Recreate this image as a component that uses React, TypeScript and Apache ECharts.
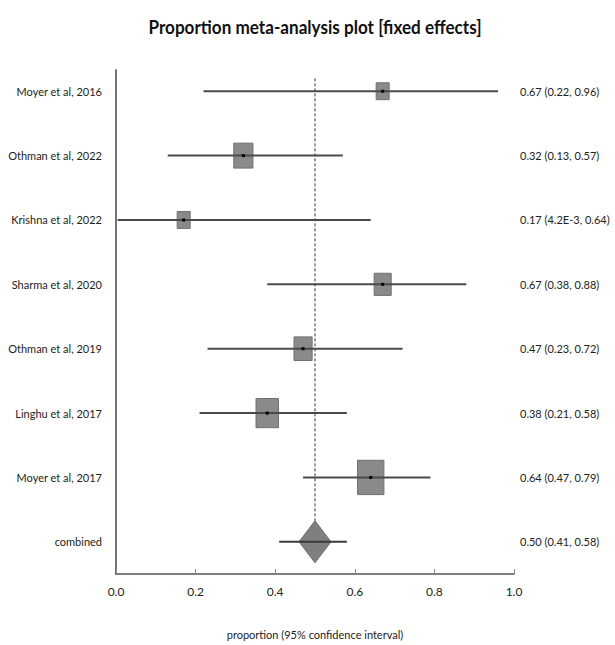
import React, { useEffect, useRef } from "react";
import * as echarts from "echarts";

const studies = [
  "Moyer et al, 2016",
  "Othman et al, 2022",
  "Krishna et al, 2022",
  "Sharma et al, 2020",
  "Othman et al, 2019",
  "Linghu et al, 2017",
  "Moyer et al, 2017",
];
const proportions = [0.67, 0.32, 0.17, 0.67, 0.47, 0.38, 0.64];
const lowerCI = [0.22, 0.13, 0.0042, 0.38, 0.23, 0.21, 0.47];
const upperCI = [0.96, 0.57, 0.64, 0.88, 0.72, 0.58, 0.79];
const sampleSizes = [6, 19, 6, 15, 17, 26, 36];
const ciLabels = [
  "0.67 (0.22, 0.96)",
  "0.32 (0.13, 0.57)",
  "0.17 (4.2E-3, 0.64)",
  "0.67 (0.38, 0.88)",
  "0.47 (0.23, 0.72)",
  "0.38 (0.21, 0.58)",
  "0.64 (0.47, 0.79)",
];
const combinedLabel = "combined";
const combinedEstimate = 0.5;
const combinedLower = 0.41;
const combinedUpper = 0.58;
const combinedCILabel = "0.50 (0.41, 0.58)";

const rowLabels = [...studies, combinedLabel];
const rightLabels = [...ciLabels, combinedCILabel];
const rowIdx = rowLabels.map((_, i) => i);

const TITLE = "Proportion meta-analysis plot [fixed effects]";
const FONT = "Lato, 'Noto Sans', sans-serif";
const TEXT = "#222";

function measure(text: string, font: string): number {
  const c = document.createElement("canvas").getContext("2d");
  if (!c) return 0;
  c.font = font;
  return c.measureText(text).width;
}

export default function App() {
  const ref = useRef<HTMLDivElement>(null);
  useEffect(() => {
    if (!ref.current) return;
    const chart = echarts.init(ref.current, null, { renderer: "svg" });

    const titleFont = `bold 19px ${FONT}`;
    const tw = measure(TITLE, titleFont);
    const titleScale = tw > 0 ? 333 / tw : 1;

    const studyData = studies.map((_, i) => [
      proportions[i],
      i,
      lowerCI[i],
      upperCI[i],
      sampleSizes[i],
    ]);
    const combinedIndex = studies.length;

    const renderStudy = (_params: any, api: any) => {
      const est = api.value(0);
      const idx = api.value(1);
      const lo = api.value(2);
      const hi = api.value(3);
      const n = api.value(4);
      const [xe, y] = api.coord([est, idx]);
      const xl = api.coord([lo, idx])[0];
      const xh = api.coord([hi, idx])[0];
      const w = Math.max(13, 4.4 * Math.sqrt(n));
      const h = w * 1.3;
      return {
        type: "group",
        children: [
          {
            type: "rect",
            shape: { x: xe - w / 2, y: y - h / 2, width: w, height: h },
            style: { fill: "#8a8a8a", stroke: "#707070", lineWidth: 1 },
          },
          {
            type: "line",
            shape: { x1: xl, y1: y, x2: xh, y2: y },
            style: { stroke: "#4a4a4a", lineWidth: 2 },
          },
          {
            type: "rect",
            shape: { x: xe - 1.5, y: y - 1.5, width: 3, height: 3 },
            style: { fill: "#000" },
          },
        ],
      };
    };

    const renderCombined = (_params: any, api: any) => {
      const est = api.value(0);
      const idx = api.value(1);
      const [xe, y] = api.coord([est, idx]);
      const xl = api.coord([api.value(2), idx])[0];
      const xh = api.coord([api.value(3), idx])[0];
      const hw = 16;
      const hh = 21;
      const top = api.coord([est, -0.2])[1];
      return {
        type: "group",
        children: [
          {
            type: "line",
            shape: { x1: xe, y1: top, x2: xe, y2: y - hh },
            style: { stroke: "#333", lineWidth: 1, lineDash: [3, 2] },
          },
          {
            type: "polygon",
            shape: {
              points: [
                [xe, y - hh],
                [xe + hw, y],
                [xe, y + hh],
                [xe - hw, y],
              ],
            },
            style: { fill: "#7f7f7f", stroke: "#6e6e6e", lineWidth: 1 },
          },
          {
            type: "line",
            shape: { x1: xl, y1: y, x2: xh, y2: y },
            style: { stroke: "#3a3a3a", lineWidth: 2 },
          },
        ],
      };
    };

    chart.setOption({
      animation: false,
      backgroundColor: "#fff",
      graphic: [
        {
          type: "text",
          x: 315,
          y: 27,
          scaleX: titleScale,
          style: {
            text: TITLE,
            fill: "#111",
            font: titleFont,
            align: "center",
            verticalAlign: "middle",
          },
        },
      ],
      grid: { left: 116, right: 101, top: 70, bottom: 71, outerBoundsMode: "none", containLabel: false },
      xAxis: {
        type: "value",
        min: 0,
        max: 1,
        interval: 0.2,
        axisLine: { show: true, onZero: false, lineStyle: { color: "#555", width: 1.5 } },
        axisTick: { show: true, inside: true, length: 5, lineStyle: { color: "#888" } },
        splitLine: { show: false },
        axisLabel: {
          color: TEXT,
          fontFamily: FONT,
          fontSize: 12,
          margin: 11,
          formatter: (v: number) => v.toFixed(1),
        },
        name: "proportion (95% confidence interval)",
        nameLocation: "middle",
        nameGap: 55,
        nameTextStyle: { color: TEXT, fontFamily: FONT, fontSize: 11 },
      },
      yAxis: [
        {
          type: "value",
          min: -0.33,
          max: 7.5,
          inverse: true,
          position: "left",
          axisLine: { show: true, onZero: false, lineStyle: { color: "#444", width: 1.5 } },
          axisTick: { show: false },
          splitLine: { show: false },
          axisLabel: {
            customValues: rowIdx,
            color: TEXT,
            fontFamily: FONT,
            fontSize: 11,
            margin: 14,
            formatter: (v: number) => rowLabels[Math.round(v)] ?? "",
          },
        },
        {
          type: "value",
          min: -0.33,
          max: 7.5,
          inverse: true,
          position: "right",
          axisLine: { show: false },
          axisTick: { show: false },
          splitLine: { show: false },
          axisLabel: {
            customValues: rowIdx,
            color: TEXT,
            fontFamily: FONT,
            fontSize: 11,
            margin: 6,
            formatter: (v: number) => rightLabels[Math.round(v)] ?? "",
          },
        },
      ],
      series: [
        {
          type: "custom",
          renderItem: renderCombined,
          data: [[combinedEstimate, combinedIndex, combinedLower, combinedUpper]],
          encode: { x: [0, 2, 3], y: 1 },
          yAxisIndex: 0,
          z: 1,
        },
        {
          type: "custom",
          renderItem: renderStudy,
          data: studyData,
          encode: { x: [0, 2, 3], y: 1 },
          yAxisIndex: 0,
          z: 2,
        },
      ],
    });
    return () => chart.dispose();
  }, []);
  return (
    <div
      ref={ref}
      style={{ position: "absolute", left: 0, top: 0, width: 615, height: 645 }}
    />
  );
}
